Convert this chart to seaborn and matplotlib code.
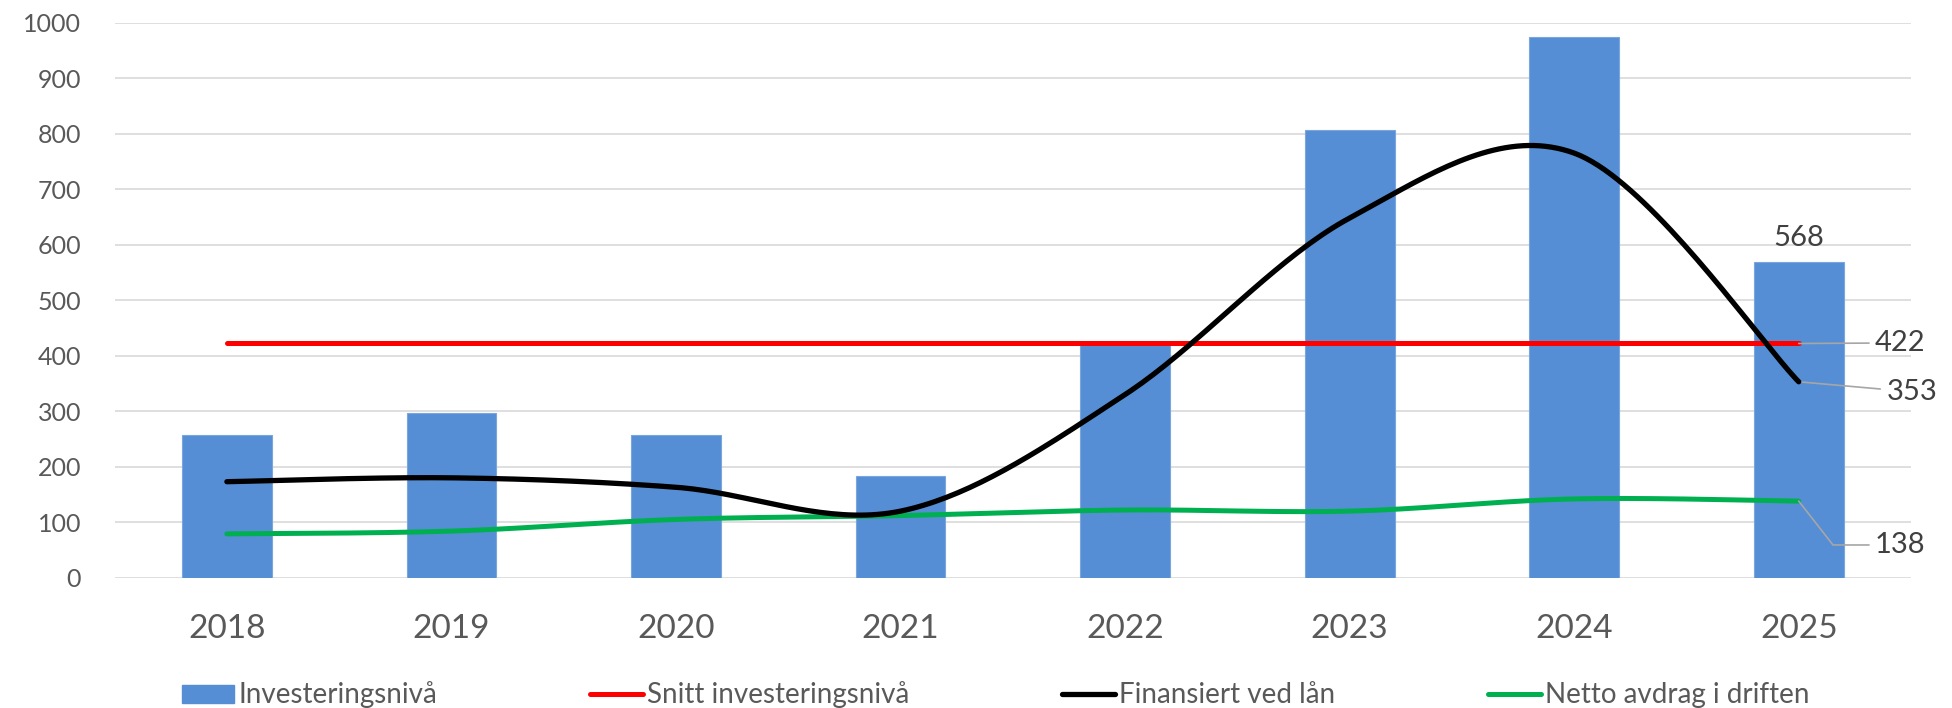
import numpy as np
import matplotlib
matplotlib.use('Agg')
import matplotlib.pyplot as plt
import seaborn as sns

# Data
years = ['2018', '2019', '2020', '2021', '2022', '2023', '2024', '2025']
investering = [257, 297, 258, 184, 420, 807, 975, 568]
snitt = [422, 422, 422, 422, 422, 422, 422, 422]
laan = [173, 180, 163, 120, 330, 648, 765, 353]
avdrag = [79, 84, 105, 112, 122, 120, 142, 138]

BLUE = '#558ed5'
RED = '#ff0000'
BLACK = '#000000'
GREEN = '#00b050'
TXT = '#595959'


# Excel-style smoothed line (Bezier through the points)
def smooth(xs, ys, n=40):
    pts = np.column_stack([xs, ys]).astype(float)
    out = []
    last = len(pts) - 1
    for i in range(last):
        p0 = pts[max(i - 1, 0)]
        p1 = pts[i]
        p2 = pts[i + 1]
        p3 = pts[min(i + 2, last)]
        c1 = p1 + (p2 - p0) / 6
        c2 = p2 - (p3 - p1) / 6
        t = np.linspace(0, 1, n)[:, None]
        seg = (1 - t) ** 3 * p1 + 3 * (1 - t) ** 2 * t * c1 + 3 * (1 - t) * t ** 2 * c2 + t ** 3 * p2
        out.append(seg if i == 0 else seg[1:])
    seg = np.vstack(out)
    return seg[:, 0], seg[:, 1]


sns.set_style('white')
plt.rcParams['font.family'] = ['Lato', 'DejaVu Sans']

fig = plt.figure(figsize=(19.52, 7.08), dpi=100)
ax = fig.add_axes([0.0587, 0.184, 0.9203, 0.784])

sns.barplot(x=years, y=investering, color=BLUE, width=0.4, saturation=1,
            edgecolor='#7aa6dd', linewidth=0.8, ax=ax, zorder=2)

idx = np.arange(len(years))
ax.plot(idx, snitt, color=RED, lw=3.6, solid_capstyle='round', zorder=3)
sx, sy = smooth(idx, laan)
ax.plot(sx, sy, color=BLACK, lw=3.8, solid_capstyle='round', zorder=4)
gx, gy = smooth(idx, avdrag)
ax.plot(gx, gy, color=GREEN, lw=3.6, solid_capstyle='round', zorder=3)

ax.set_xlim(-0.5, 7.5)
ax.set_ylim(0, 1000)
ax.set_yticks(range(0, 1001, 100))
ax.yaxis.grid(True, color='#d9d9d9', lw=1.2, zorder=0)
ax.set_axisbelow(True)
for s in ax.spines.values():
    s.set_visible(False)
ax.tick_params(axis='both', length=0)
ax.tick_params(axis='y', labelsize=18, labelcolor=TXT, pad=24)
ax.tick_params(axis='x', labelsize=24, labelcolor=TXT, pad=26)
ax.set_xlabel('')
ax.set_ylabel('')

# data labels
last = len(years) - 1
ax.annotate(str(investering[last]), xy=(last, investering[last]), xytext=(0, 8),
            textcoords='offset points', ha='center', va='bottom', fontsize=21, color='#404040')
lead = dict(arrowstyle='-', color='#a6a6a6', lw=1.2, shrinkA=2, shrinkB=0)
ax.annotate(str(snitt[last]), xy=(last, snitt[last]), xytext=(last + 0.34, 423),
            ha='left', va='center', fontsize=21, color='#404040', arrowprops=lead)
ax.annotate(str(laan[last]), xy=(last, laan[last]), xytext=(last + 0.39, 335),
            ha='left', va='center', fontsize=21, color='#404040', arrowprops=lead)
ax.annotate(str(avdrag[last]), xy=(last, avdrag[last]), xytext=(last + 0.34, 59),
            ha='left', va='center', fontsize=21, color='#404040',
            arrowprops=dict(lead, connectionstyle='angle,angleA=0,angleB=-52,rad=0'))

handles = [
    plt.Rectangle((0, 0), 1, 1, color=BLUE),
    plt.Line2D([], [], color=RED, lw=3.6, solid_capstyle='round'),
    plt.Line2D([], [], color=BLACK, lw=3.8, solid_capstyle='round'),
    plt.Line2D([], [], color=GREEN, lw=3.6, solid_capstyle='round'),
]
labels = ['Investeringsnivå', 'Snitt investeringsnivå', 'Finansiert ved lån', 'Netto avdrag i driften']
leg = fig.legend(handles, labels, loc='lower center', bbox_to_anchor=(0.51, -0.036), ncol=4,
                 frameon=False, fontsize=20, handlelength=1.9, handleheight=0.6,
                 handletextpad=0.15, columnspacing=5.5)
for t in leg.get_texts():
    t.set_color(TXT)

fig.savefig('out.png', dpi=100)
